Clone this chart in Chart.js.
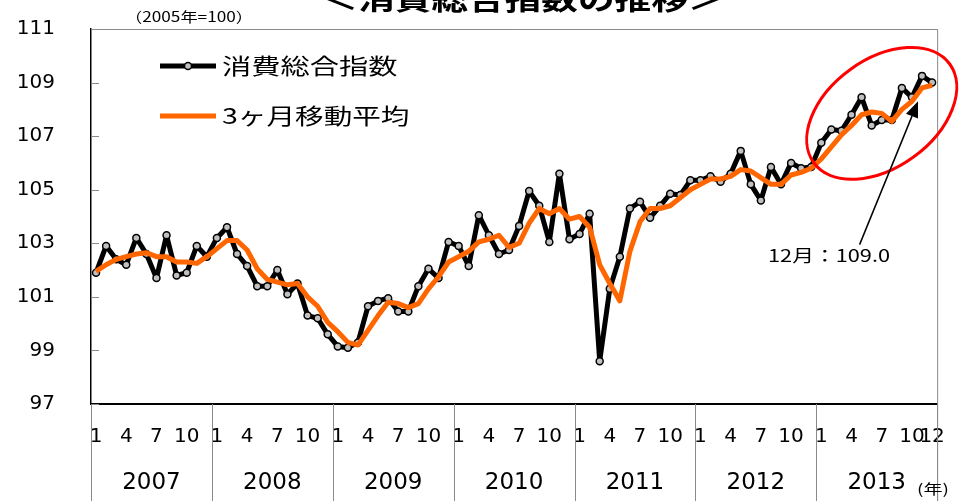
<!DOCTYPE html>
<html><head><meta charset="utf-8">
<script src="https://cdn.jsdelivr.net/npm/chart.js@4/dist/chart.umd.min.js"></script>
<style>html,body{margin:0;padding:0;background:#fff;overflow:hidden}canvas{display:block}</style>
</head><body>
<canvas id="c" width="966" height="501"></canvas>
<script>
// ---- data ----
const years = ['2007','2008','2009','2010','2011','2012','2013'];
const labeledMonths = [1, 4, 7, 10];
const categories = [];
years.forEach(yr => { for (let m = 1; m <= 12; m++) categories.push(yr + '/' + m); });

const consumptionIndex = [
  101.9, 102.9, 102.4, 102.2, 103.2, 102.6, 101.7, 103.3, 101.8, 101.9, 102.9, 102.5,
  103.2, 103.6, 102.6, 102.15, 101.4, 101.4, 102.0, 101.1, 101.5, 100.3, 100.2, 99.6,
  99.15, 99.1, 99.3, 100.65, 100.85, 100.95, 100.45, 100.45, 101.4, 102.05, 101.7, 103.05,
  102.9, 102.15, 104.05, 103.3, 102.6, 102.75, 103.65, 104.95, 104.4, 103.05, 105.6, 103.15,
  103.35, 104.1, 98.6, 101.3, 102.5, 104.3, 104.55, 103.95, 104.4, 104.85, 104.8, 105.35,
  105.35, 105.5, 105.3, 105.6, 106.45, 105.2, 104.6, 105.85, 105.2, 106.0, 105.8, 105.85,
  106.75, 107.25, 107.2, 107.8, 108.45, 107.4, 107.6, 107.6, 108.8, 108.45, 109.25, 109.0
];
const movingAverage3m = [
  101.95, 102.2, 102.4, 102.5, 102.6, 102.65, 102.5, 102.5, 102.3, 102.3, 102.25, 102.5,
  102.8, 103.1, 103.1, 102.75, 102.05, 101.65, 101.55, 101.45, 101.5, 101.0, 100.65, 100.05,
  99.7, 99.3, 99.2, 99.75, 100.3, 100.8, 100.75, 100.6, 100.75, 101.3, 101.75, 102.3,
  102.5, 102.7, 103.05, 103.15, 103.3, 102.85, 103.0, 103.75, 104.3, 104.1, 104.3, 103.9,
  104.0, 103.6, 102.2, 101.5, 100.85, 102.7, 103.8, 104.3, 104.3, 104.4, 104.7, 105.0,
  105.2, 105.4, 105.4, 105.5, 105.75, 105.7, 105.45, 105.2, 105.2, 105.55, 105.65, 105.8,
  106.15, 106.6, 107.05, 107.4, 107.8, 107.9, 107.85, 107.55, 108.0, 108.3, 108.8, 108.9
];
const yMin = 97, yMax = 111, yStep = 2;
const seriesNames = ['消費総合指数', '3ヶ月移動平均'];
const titleText = '＜消費総合指数の推移＞';
const unitText = '（2005年=100）';
const yearUnitText = '(年)';
const calloutText = '12月：109.0';

// ---- drawing ----
const CJK = '"Noto Sans CJK JP", "Noto Sans", sans-serif';
const NUM = '"DejaVu Sans", sans-serif';

function stretchedText(ctx, text, cx, cy, font, targetW, baseline) {
  ctx.save();
  ctx.font = font;
  const w = ctx.measureText(text).width;
  const sx = targetW / w;
  ctx.translate(cx, cy);
  ctx.scale(sx, 1);
  ctx.textAlign = 'center';
  ctx.textBaseline = baseline || 'middle';
  ctx.fillText(text, 0, 0);
  ctx.restore();
}
function stretchedLeft(ctx, text, lx, cy, font, sx) {
  ctx.save();
  ctx.font = font;
  ctx.translate(lx, cy);
  ctx.scale(sx, 1);
  ctx.textAlign = 'left';
  ctx.textBaseline = 'middle';
  ctx.fillText(text, 0, 0);
  ctx.restore();
}
function seg(ctx, x1, y1, x2, y2) { ctx.beginPath(); ctx.moveTo(x1, y1); ctx.lineTo(x2, y2); ctx.stroke(); }

const deco = {
  id: 'deco',
  beforeDatasetsDraw(chart) {
    const { ctx, chartArea: a, scales: { x, y } } = chart;
    const H = chart.height;
    ctx.save();
    ctx.strokeStyle = '#8a8a8a';
    ctx.lineWidth = 1;
    seg(ctx, a.left, a.top + 0.5, a.right, a.top + 0.5);
    seg(ctx, a.right + 0.5, a.top, a.right + 0.5, H);
    // inner y tick marks
    y.ticks.forEach(t => {
      const py = Math.round(y.getPixelForValue(t.value)) + 0.5;
      seg(ctx, a.left, py, a.left + 8, py);
    });
    // year separators below the axis
    const half = (x.getPixelForValue(1) - x.getPixelForValue(0)) / 2;
    for (let k = 0; k <= years.length; k++) {
      const px = Math.round(k < years.length ? x.getPixelForValue(k * 12) - half
                                             : x.getPixelForValue(categories.length - 1) + half) + 0.5;
      seg(ctx, px, a.bottom, px, H);
    }
    ctx.restore();
  },
  afterDraw(chart) {
    const { ctx, chartArea: a, scales: { x, y } } = chart;
    ctx.save();
    ctx.fillStyle = '#000';
    // year labels
    ctx.font = '23px ' + NUM;
    ctx.textAlign = 'center';
    ctx.textBaseline = 'middle';
    years.forEach((yr, k) => {
      const cx = (x.getPixelForValue(k * 12) + x.getPixelForValue(k * 12 + 11)) / 2;
      ctx.fillText(yr, cx, 483);
    });
    stretchedText(ctx, yearUnitText, 933, 489, '14px ' + CJK, 32);
    // title (cut by the top edge) and unit
    stretchedText(ctx, titleText, 523, 10, 'bold 28px ' + CJK, 403, 'alphabetic');
    stretchedText(ctx, unitText, 189, 17, '14px ' + CJK, 128);
    // legend
    ctx.lineCap = 'butt';
    ctx.strokeStyle = '#000'; ctx.lineWidth = 5;
    seg(ctx, 160, 66, 216, 66);
    ctx.beginPath(); ctx.arc(188, 66, 3.5, 0, Math.PI * 2);
    ctx.fillStyle = '#c0c0c0'; ctx.fill();
    ctx.lineWidth = 1.5; ctx.stroke();
    ctx.fillStyle = '#000';
    stretchedLeft(ctx, seriesNames[0], 222, 66, '22px ' + CJK, 1.33);
    ctx.strokeStyle = '#ff6600'; ctx.lineWidth = 5;
    seg(ctx, 160, 116, 216, 116);
    stretchedLeft(ctx, seriesNames[1], 222, 116, '22px ' + CJK, 1.3);
    // ellipse highlight
    ctx.strokeStyle = '#ff0000'; ctx.lineWidth = 3;
    ctx.beginPath();
    ctx.ellipse(x.getPixelForValue(78), y.getPixelForValue(107.85), 84, 54, -36 * Math.PI / 180, 0, Math.PI * 2);
    ctx.stroke();
    // arrow
    const tx = x.getPixelForValue(82) - 4, ty = y.getPixelForValue(108.3);
    const sxp = x.getPixelForValue(76) - 2, syp = y.getPixelForValue(102.95);
    const ang = Math.atan2(ty - syp, tx - sxp);
    const L = 16, W = 6.5;
    const bx = tx - L * Math.cos(ang), by = ty - L * Math.sin(ang);
    ctx.strokeStyle = '#000'; ctx.lineWidth = 1.5;
    seg(ctx, sxp, syp, bx, by);
    ctx.beginPath();
    ctx.moveTo(tx, ty);
    ctx.lineTo(bx + W * Math.sin(ang), by - W * Math.cos(ang));
    ctx.lineTo(bx - W * Math.sin(ang), by + W * Math.cos(ang));
    ctx.closePath();
    ctx.fillStyle = '#000'; ctx.fill();
    stretchedText(ctx, calloutText, 829, y.getPixelForValue(102.55), '17px ' + CJK, 122);
    ctx.restore();
  }
};

new Chart(document.getElementById('c'), {
  type: 'line',
  data: {
    labels: categories,
    datasets: [
      {
        label: seriesNames[0], data: consumptionIndex, order: 2,
        borderColor: '#000', borderWidth: 5, borderJoinStyle: 'round',
        pointRadius: 3.5, pointBorderWidth: 1.5, pointBackgroundColor: '#c0c0c0', pointBorderColor: '#000',
        tension: 0
      },
      {
        label: seriesNames[1], data: movingAverage3m, order: 1,
        borderColor: '#ff6600', borderWidth: 5, borderJoinStyle: 'round',
        pointRadius: 0, tension: 0
      }
    ]
  },
  options: {
    responsive: false, animation: false, devicePixelRatio: 1,
    layout: { padding: { top: 29, right: 28, left: 0, bottom: 0 } },
    plugins: { legend: { display: false }, tooltip: { enabled: false } },
    scales: {
      x: {
        type: 'category', offset: true,
        grid: { display: false, drawTicks: false },
        border: { display: true, color: '#000', width: 2 },
        ticks: {
          autoSkip: false, maxRotation: 0, minRotation: 0, padding: 21,
          color: '#000', font: { family: 'DejaVu Sans', size: 20 },
          callback: (v, i) => {
            const m = i % 12 + 1;
            if (labeledMonths.includes(m)) return String(m);
            if (i === categories.length - 1) return String(m);
            return '';
          }
        },
        afterFit: s => { s.height = 97; }
      },
      y: {
        min: yMin, max: yMax,
        grid: { display: false, drawTicks: false },
        border: { display: true, color: '#000', width: 1.5 },
        ticks: { stepSize: yStep, padding: 36, color: '#000', font: { family: 'DejaVu Sans', size: 20 } },
        afterFit: s => { s.width = 91; s.paddingTop = 0; s.paddingBottom = 0; }
      }
    }
  },
  plugins: [deco]
});
</script>
</body></html>
